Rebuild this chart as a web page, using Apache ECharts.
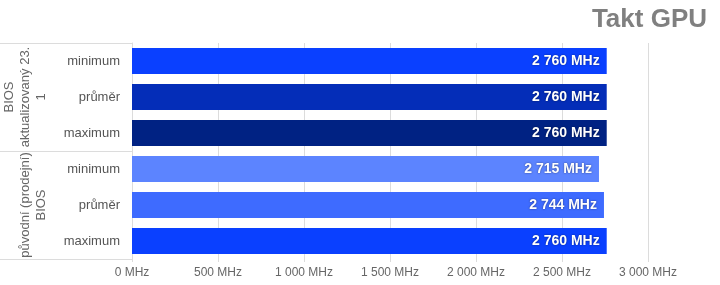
<!DOCTYPE html>
<html>
<head>
<meta charset="utf-8">
<script src="https://cdn.jsdelivr.net/npm/echarts@6/dist/echarts.min.js"></script>
<style>
html,body{margin:0;padding:0;background:#fff;}
#chart{width:720px;height:285px;}
</style>
</head>
<body>
<div id="chart"></div>
<script>
// data
var categories = ['minimum', 'průměr', 'maximum', 'minimum', 'průměr', 'maximum'];
var groups = ['BIOS\naktualizovaný 23.\n1', 'původní (prodejní)\nBIOS'];
var values = [2760, 2760, 2760, 2715, 2744, 2760];
var colors = ['#0a40ff', '#042db8', '#002283', '#5c84ff', '#3e6bff', '#0a40ff'];
var xTicks = [0, 500, 1000, 1500, 2000, 2500, 3000];

function mhz(v) {
	return String(v).replace(/\B(?=(\d{3})+(?!\d))/g, ' ') + ' MHz';
}

var barData = [];
for (var i = 0; i < values.length; i++) {
	barData.push({value: values[i], itemStyle: {color: colors[i]}});
}

var myChart = echarts.init(document.getElementById('chart'));
var option = {
	animation: false,
	textStyle: {fontFamily: 'Liberation Sans, Arial, sans-serif'},
	title: {
		text: 'Takt GPU',
		right: 8,
		top: 2,
		textStyle: {fontSize: 26, fontWeight: 'bold', color: '#808080'}
	},
	grid: {left: 132, right: 72, top: 43, bottom: 26},
	xAxis: {
		type: 'value',
		min: xTicks[0],
		max: xTicks[xTicks.length - 1],
		interval: 500,
		axisLine: {show: false},
		axisTick: {show: true, length: 3, lineStyle: {color: '#dcdcdc'}},
		splitLine: {show: true, lineStyle: {color: '#dcdcdc'}},
		axisLabel: {color: '#666', fontSize: 12, margin: 8, formatter: mhz}
	},
	yAxis: [
		{
			type: 'category',
			data: categories,
			inverse: true,
			position: 'left',
			axisLine: {show: true, lineStyle: {color: '#dcdcdc'}},
			axisTick: {show: false},
			axisLabel: {color: '#555', fontSize: 13, margin: 12, interval: 0}
		},
		{
			type: 'category',
			data: groups,
			inverse: true,
			position: 'left',
			axisLine: {show: false},
			axisTick: {show: true, interval: 0, length: 132, lineStyle: {color: '#dcdcdc'}},
			axisLabel: {color: '#666', fontSize: 13, lineHeight: 16, rotate: 90, margin: 83, interval: 0, hideOverlap: false}
		}
	],
	series: [
		{
			type: 'bar',
			yAxisIndex: 0,
			barWidth: 26,
			data: barData,
			label: {
				show: true,
				position: 'insideRight',
				distance: 7,
				color: '#fff',
				fontSize: 14,
				fontWeight: 'bold',
				textShadowColor: 'rgba(0,0,0,0.5)',
				textShadowBlur: 2,
				formatter: function (p) { return mhz(p.value); }
			}
		}
	]
};
myChart.setOption(option);
</script>
</body>
</html>
